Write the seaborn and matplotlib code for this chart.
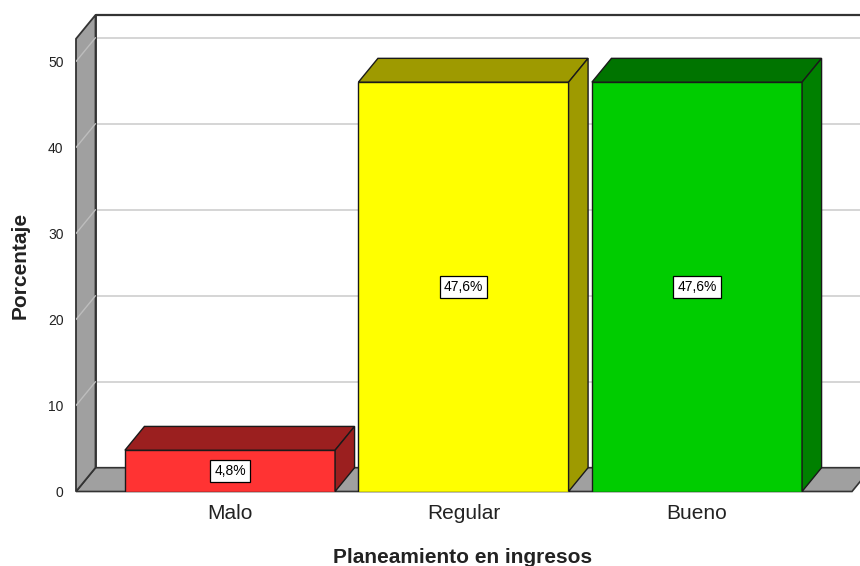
import matplotlib
matplotlib.use("Agg")
import matplotlib.pyplot as plt
from matplotlib.patches import Polygon
import seaborn as sns
import pandas as pd

# Datos del gráfico
categorias = ["Malo", "Regular", "Bueno"]
porcentajes = [4.8, 47.6, 47.6]
etiquetas = ["4,8%", "47,6%", "47,6%"]
marcas_y = [0, 10, 20, 30, 40, 50]

color_frente = ["#ff3333", "#ffff00", "#00cc00"]
color_tapa = ["#9b1f1f", "#9e9a00", "#007400"]
color_lado = ["#9b1f1f", "#9e9a00", "#008000"]

sns.set_theme(style="white")
plt.rcParams["font.family"] = ["Liberation Sans", "DejaVu Sans"]

W, H = 860, 566
fig = plt.figure(figsize=(W / 100, H / 100), dpi=100)

# escala en píxeles de cada unidad de datos
ux, uy = 233.5, 8.6
cx0 = 230.0        # centro de la primera categoría
izq_px = 76.0      # borde frontal del eje vertical
base_px = 491.5    # línea de cero (desde arriba)
arriba_px = 10.0

xmin = (izq_px - cx0) / ux
xmax = (W - cx0) / ux
ymax = (base_px - arriba_px) / uy
ax = fig.add_axes([izq_px / W, (H - base_px) / H, (W - izq_px) / W, (base_px - arriba_px) / H])

# profundidad del efecto 3D
dx = 19.5 / ux
dy = 23.8 / uy
ytope = (base_px - 15) / uy
xder_suelo = (852 - cx0) / ux

df = pd.DataFrame({"cat": categorias, "pct": porcentajes})
sns.barplot(data=df, x="cat", y="pct", hue="cat", palette=color_frente,
            saturation=1, width=0.9, edgecolor="#1a1a1a", linewidth=1.0,
            legend=False, ax=ax, zorder=6)
ax.set_xlim(xmin, xmax)
ax.set_ylim(0, ymax)

gris = "#a0a0a0"
borde = "#333333"

# pared del fondo: líneas de cuadrícula
for v in marcas_y[1:]:
    ax.plot([xmin + dx, xmax], [v + dy, v + dy], color="#d2d2d2", lw=1.3, zorder=1)
ax.plot([xmin + dx, xmax], [ytope, ytope], color=borde, lw=1.6, zorder=2, clip_on=False)
ax.plot([xmin + dx, xmin + dx], [dy, ytope], color=borde, lw=1.3, zorder=2)

# suelo
suelo = Polygon([(xmin, 0), (xder_suelo, 0), (xder_suelo + dx, dy), (xmin + dx, dy)],
                closed=True, facecolor=gris, edgecolor=borde, lw=1.2, zorder=2,
                clip_on=False)
ax.add_patch(suelo)

# pared izquierda
pared = Polygon([(xmin, 0), (xmin, ytope - dy), (xmin + dx, ytope), (xmin + dx, dy)],
                closed=True, facecolor=gris, edgecolor=borde, lw=1.3, zorder=2,
                clip_on=False)
ax.add_patch(pared)
for v in marcas_y[1:]:
    ax.plot([xmin, xmin + dx], [v, v + dy], color="#bdbdbd", lw=1.0, zorder=3)

# caras superior y lateral de cada barra
barras = [p for p in ax.patches if p not in (suelo, pared)][:len(categorias)]
for i, p in enumerate(barras):
    x, w, h = p.get_x(), p.get_width(), p.get_height()
    tapa = Polygon([(x, h), (x + dx, h + dy), (x + w + dx, h + dy), (x + w, h)],
                   closed=True, facecolor=color_tapa[i], edgecolor="#1a1a1a",
                   lw=1.0, zorder=6)
    lado = Polygon([(x + w, 0), (x + w, h), (x + w + dx, h + dy), (x + w + dx, dy)],
                   closed=True, facecolor=color_lado[i], edgecolor="#1a1a1a",
                   lw=1.0, zorder=6)
    ax.add_patch(tapa)
    ax.add_patch(lado)
    ax.text(x + w / 2, h / 2, etiquetas[i], ha="center", va="center", fontsize=10,
            color="black", zorder=8,
            bbox=dict(boxstyle="square,pad=0.3", fc="white", ec="black", lw=0.9))

ax.set_yticks(marcas_y)
ax.set_yticklabels([str(v) for v in marcas_y], fontsize=10, color="#222222")
ax.set_xticks(range(len(categorias)))
ax.set_xticklabels(categorias, fontsize=15, color="#222222")
ax.tick_params(axis="y", length=0, pad=9)
ax.tick_params(axis="x", length=0, pad=9)
ax.set_xlabel("")
ax.set_ylabel("")
for s in ax.spines.values():
    s.set_visible(False)
ax.grid(False)

fig.text(20 / W, 1 - 265 / H, "Porcentaje", rotation=90, ha="center", va="center",
         fontsize=15, fontweight="bold", color="#222222")
fig.text(463 / W, 3 / H, "Planeamiento en ingresos", ha="center", va="baseline",
         fontsize=15, fontweight="bold", color="#222222")

fig.savefig("out.png", dpi=100)
